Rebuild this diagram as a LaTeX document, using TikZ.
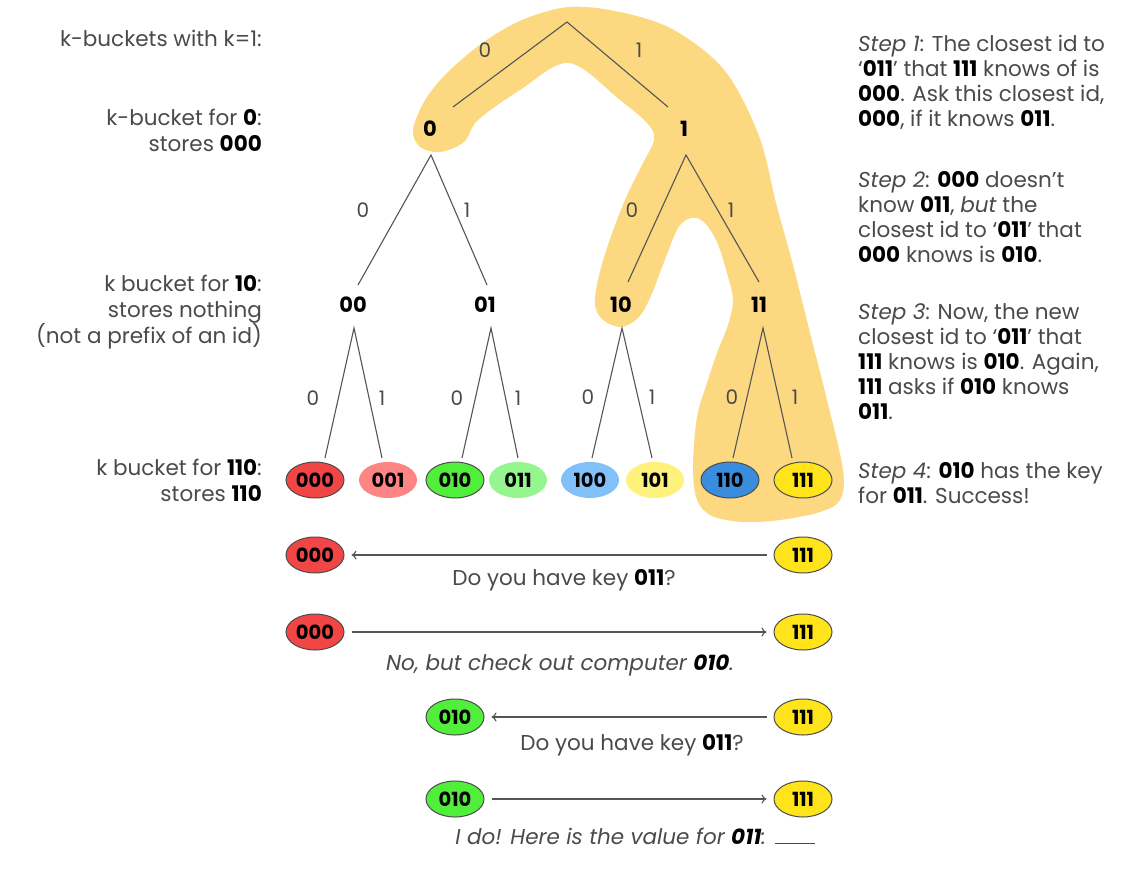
\documentclass[tikz,border=0pt]{standalone}
\usepackage{fontspec}
\setmainfont{Poppins}
\usetikzlibrary{arrows.meta,shapes.geometric}
\definecolor{hl}{HTML}{FCD880}
\definecolor{txt}{HTML}{4A4A4A}
\definecolor{edgec}{HTML}{555555}
\definecolor{cA}{HTML}{F24646}
\definecolor{cB}{HTML}{FF8585}
\definecolor{cC}{HTML}{52EE3C}
\definecolor{cD}{HTML}{95F58F}
\definecolor{cE}{HTML}{82C0FA}
\definecolor{cF}{HTML}{FFF27C}
\definecolor{cG}{HTML}{3A8CDC}
\definecolor{cH}{HTML}{FFE41C}
\newcommand{\bnum}[1]{\textbf{\color{black}#1}}
\begin{document}
\begin{tikzpicture}[x=1pt,y=-1pt,
  every node/.style={font=\fontsize{21.5}{25}\selectfont, text=txt, inner sep=0pt},
  inode/.style={font=\fontsize{21}{22}\selectfont\bfseries, text=black},
  elab/.style={font=\fontsize{20}{22}\selectfont, text=txt},
  edge/.style={draw=edgec, line width=1.1pt},
  leaf/.style={ellipse, minimum width=58pt, minimum height=36pt, font=\fontsize{19.5}{20}\selectfont\bfseries, text=black},
  bordered/.style={draw=black!70, line width=1pt},
  msg/.style={draw=edgec, line width=1.1pt, -{To[length=5pt,width=9pt]}, shorten >=7pt, shorten <=7pt},
]
\useasboundingbox (0,0) rectangle (1124,875);
\fill[white] (0,0) rectangle (1124,875);

% highlight
\fill[hl] plot[smooth cycle, tension=0.55] coordinates {
 (413,130) (424,102) (445,75) (481,44) (522,20) (569,7) (620,12) (674,30) (725,71)
 (759,136) (776,203) (793,265) (810,333) (827,400) (843,470) (840,500) (820,512)
 (780,520) (743,522) (712,516) (697,500) (693,467) (697,417) (707,383) (717,353)
 (728,325) (733,300) (727,273) (717,242) (704,222) (691,218) (678,228) (664,262)
 (650,298) (638,318) (621,327) (603,320) (595,305) (598,280) (608,245) (625,200)
 (642,165) (654,140) (648,124) (620,100) (569,63) (520,90) (478,120) (464,142)
 (440,152) (420,147)};

% left texts
\node[anchor=east] (kh) at (262,38) {k-buckets with k=1:};
\node[anchor=east, align=right, font=\fontsize{21.5}{26}\selectfont] (kb0) at (262,130) {k-bucket for \bnum{0}:\\ stores \bnum{000}};
\node[anchor=east, align=right, font=\fontsize{21.5}{26}\selectfont] (kb10) at (262,312) {k bucket for \bnum{10}:\\ stores nothing\hspace{9pt}\\ (not a prefix of an id)};
\node[anchor=east, align=right, font=\fontsize{21.5}{26}\selectfont] (kb110) at (262,480) {k bucket for \bnum{110}:\\ stores \bnum{110}};

% right texts
\node[anchor=west, align=left] (s1) at (858,82.5) {\textit{Step 1}: The closest id to\\ ‘\bnum{011}’ that \bnum{111} knows of is\\ \bnum{000}. Ask this closest id,\\ \bnum{000}, if it knows \bnum{011}.};
\node[anchor=west, align=left] (s2) at (858,217.5) {\textit{Step 2}: \bnum{000} doesn’t\\ know \bnum{011}, \textit{but} the\\ closest id to ‘\bnum{011}’ that\\ \bnum{000} knows is \bnum{010}.};
\node[anchor=west, align=left] (s3) at (858,362) {\textit{Step 3}: Now, the new\\ closest id to ‘\bnum{011}’ that\\ \bnum{111} knows is \bnum{010}. Again,\\ \bnum{111} asks if \bnum{010} knows\\ \bnum{011}.};
\node[anchor=west, align=left] (s4) at (858,483.5) {\textit{Step 4}: \bnum{010} has the key\\ for \bnum{011}. Success!};

% tree coordinates
\coordinate (root) at (567,22);
\coordinate (t0) at (453,107);
\coordinate (t1) at (668,107);
\node[inode] (n0) at (430,129) {0};
\node[inode] (n1) at (684,129) {1};
\coordinate (a0) at (431,155);
\coordinate (a1) at (686,155);
\coordinate (t00) at (358,285);
\coordinate (t01) at (487,285);
\coordinate (t10) at (628,282);
\coordinate (t11) at (759,282);
\node[inode] (n00) at (353,305) {00};
\node[inode] (n01) at (485,305) {01};
\node[inode] (n10) at (621,305) {10};
\node[inode] (n11) at (759,305) {11};
\coordinate (a00) at (354,328);
\coordinate (a01) at (491,328);
\coordinate (a10) at (622,328);
\coordinate (a11) at (763,328);
\coordinate (t000) at (325,458);
\coordinate (t001) at (382,458);
\coordinate (t010) at (462,458);
\coordinate (t011) at (518,458);
\coordinate (t100) at (592,458);
\coordinate (t101) at (652,458);
\coordinate (t110) at (733,458);
\coordinate (t111) at (792,458);

\draw[edge] (t0) -- (root) -- (t1);
\draw[edge] (t00) -- (a0) -- (t01);
\draw[edge] (t10) -- (a1) -- (t11);
\draw[edge] (t000) -- (a00) -- (t001);
\draw[edge] (t010) -- (a01) -- (t011);
\draw[edge] (t100) -- (a10) -- (t101);
\draw[edge] (t110) -- (a11) -- (t111);

% edge labels
\foreach \nm/\x/\y/\t in {r0/485/50/0, r1/639/50/1, b00/363/210/0, b01/467/210/1,
  b10/632/210/0, b11/731/210/1, c000/313/398/0, c001/382/398/1, c010/457/398/0,
  c011/518/398/1, c100/588/397/0, c101/652/397/1, c110/732/397/0, c111/795/397/1}
  \node[elab] (lab\nm) at (\x,\y) {\t};

% leaves
\node[leaf, fill=cA, bordered] (l000) at (315,480) {000};
\node[leaf, fill=cB] (l001) at (388,480) {001};
\node[leaf, fill=cC, bordered] (l010) at (455,480) {010};
\node[leaf, fill=cD] (l011) at (518,480) {011};
\node[leaf, fill=cE] (l100) at (590,480) {100};
\node[leaf, fill=cF] (l101) at (655,480) {101};
\node[leaf, fill=cG, bordered] (l110) at (730,480) {110};
\node[leaf, fill=cH, bordered] (l111) at (803,480) {111};

% messages
\node[leaf, fill=cA, bordered] (m1a) at (315,555) {000};
\node[leaf, fill=cH, bordered] (m1b) at (803,555) {111};
\draw[msg] (m1b) -- (m1a);
\node (q1) at (564,580) {Do you have key \bnum{011}?};

\node[leaf, fill=cA, bordered] (m2a) at (315,632) {000};
\node[leaf, fill=cH, bordered] (m2b) at (803,632) {111};
\draw[msg] (m2a) -- (m2b);
\node (q2) at (560,665) {\itshape No, but check out computer \bnum{010}.};

\node[leaf, fill=cC, bordered] (m3a) at (455,717) {010};
\node[leaf, fill=cH, bordered] (m3b) at (803,717) {111};
\draw[msg] (m3b) -- (m3a);
\node (q3) at (632,745) {Do you have key \bnum{011}?};

\node[leaf, fill=cC, bordered] (m4a) at (455,799) {010};
\node[leaf, fill=cH, bordered] (m4b) at (803,799) {111};
\draw[msg] (m4a) -- (m4b);
\node (q4) at (635,836) {\itshape I do! Here is the value for \bnum{011}: \rule{40pt}{1pt}};
\end{tikzpicture}
\end{document}
